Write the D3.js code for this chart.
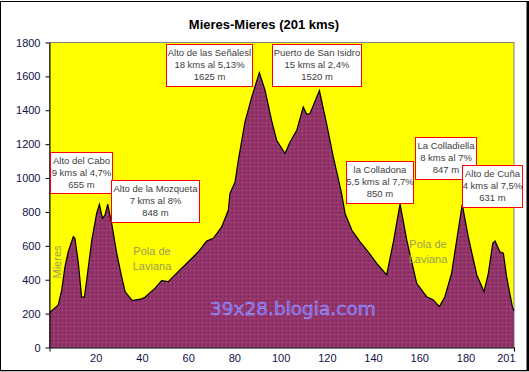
<!DOCTYPE html>
<html>
<head>
<meta charset="utf-8">
<script src="https://cdn.jsdelivr.net/npm/d3@7/dist/d3.min.js"></script>
<style>
    body { margin: 0; background: #ffffff; }
    text { font-family: "Liberation Sans", Arial, sans-serif; }
</style>
</head>
<body>
<svg id="profile" width="529" height="372"></svg>
<script>
// Profile: distance (km) and altitude (m)
const kms = [0, 3.8, 5.3, 6.7, 8.1, 10.3, 11, 12.5, 13.9, 15.1, 16.1, 18.3, 20.4, 21.6, 22.9, 24, 25.2,
    26.9, 29.1, 30.9, 32.7, 35.8, 39.9, 41.3, 45.7, 48.5, 51.4, 55.7, 60.1, 64.4, 68, 70.9, 74.5,
    77.4, 78.1, 80.3, 81.7, 84.6, 87.5, 90.8, 93.3, 96.1, 98.3, 101.9, 104.1, 107, 109.8, 111.3,
    112.7, 116.8, 119.9, 122.8, 126.4, 127.9, 130.8, 134.4, 137.9, 141.6, 145.9, 148.8, 151.7,
    154.6, 158.9, 163.2, 166.1, 168.7, 171.1, 174, 176.2, 178.6, 181.2, 184.9, 188, 189.9, 191.8,
    192.8, 194.9, 196.4, 197.8, 200.3, 201];
const altitudes = [205, 251, 340, 477, 565, 654, 644, 497, 297, 297, 399, 634, 791, 844, 762, 781, 846,
    732, 556, 438, 330, 277, 287, 297, 350, 395, 389, 448, 506, 565, 628, 644, 712,
    811, 909, 977, 1105, 1331, 1478, 1622, 1517, 1341, 1223, 1145, 1213, 1282, 1419, 1376,
    1380, 1516, 1321, 1125, 909, 791, 693, 624, 565, 497, 428, 624, 848,
    634, 379, 300, 281, 241, 300, 438, 634, 845, 654, 428, 330, 438, 615,
    628, 565, 556, 418, 241, 215];

// Passes shown in the boxes
const passNames = ["Alto del Cabo", "Alto de la Mozqueta", "Alto de las Señalesl", "Puerto de San Isidro",
    "la Colladona", "La Colladiella", "Alto de Cuña"];
const passClimbs = ["9 kms al 4,7%", "7 kms al 8%", "18 kms al 5,13%", "15 kms al 2,4%",
    "5,5 kms al 7,7%", "8 kms al 7%", "4 kms al 7,5%"];
const passHeights = ["655 m", "848 m", "1625 m", "1520 m", "850 m", "847 m", "631 m"];

const yTicks = [0, 200, 400, 600, 800, 1000, 1200, 1400, 1600, 1800];
const xTicks = [20, 40, 60, 80, 100, 120, 140, 160, 180, 201];

// Box layout in pixels (x, y, width, height), same order as passNames
const boxes = [[50, 152, 62, 41], [111, 180, 88, 42], [166, 44, 86, 42], [272, 44, 89, 42],
    [346, 161, 67, 42], [415, 137, 61, 42], [462, 165, 60, 42]];

const svg = d3.select("#profile");

const xAxis = d3.scaleLinear().domain([0, 201]).range([49.5, 514]);
const yAxis = d3.scaleLinear().domain([0, 1800]).range([347.5, 42.5]);

// outer frame
svg.append("rect").attr("x", 0.5).attr("y", 1.5).attr("width", 526.5).attr("height", 369)
    .attr("fill", "#ffffff").attr("stroke", "#000000");
svg.append("line").attr("x1", 528).attr("x2", 528).attr("y1", 1).attr("y2", 371)
    .attr("stroke", "#000000").attr("stroke-width", 2);
svg.append("line").attr("x1", 0).attr("x2", 529).attr("y1", 371.5).attr("y2", 371.5)
    .attr("stroke", "#c0c0c0");

// speckled fill like the Excel texture
const defs = svg.append("defs");
const pat = defs.append("pattern").attr("id", "speckle")
    .attr("width", 4).attr("height", 4).attr("patternUnits", "userSpaceOnUse");
pat.append("rect").attr("width", 4).attr("height", 4).attr("fill", "#93346a");
pat.append("rect").attr("x", 0).attr("y", 0).attr("width", 1).attr("height", 1).attr("fill", "#7a2656");
pat.append("rect").attr("x", 2).attr("y", 2).attr("width", 1).attr("height", 1).attr("fill", "#a8507e");
pat.append("rect").attr("x", 3).attr("y", 1).attr("width", 1).attr("height", 1).attr("fill", "#852d5e");

// plot area
svg.append("rect")
    .attr("x", xAxis(0)).attr("y", yAxis(1800))
    .attr("width", xAxis(201) - xAxis(0)).attr("height", yAxis(0) - yAxis(1800))
    .attr("fill", "#ffff00").attr("stroke", "#808080");

const points = kms.map((k, i) => ({ km: k, alt: altitudes[i] }));

const area = d3.area()
    .x(d => xAxis(d.km))
    .y0(yAxis(0))
    .y1(d => yAxis(d.alt));

svg.append("path").datum(points)
    .attr("d", area)
    .attr("fill", "url(#speckle)");

svg.append("path").datum(points)
    .attr("d", d3.line().x(d => xAxis(d.km)).y(d => yAxis(d.alt)))
    .attr("fill", "none").attr("stroke", "#000000").attr("stroke-width", 1.2);

// axes
const gy = svg.append("g")
    .attr("transform", "translate(" + xAxis(0) + ",0)")
    .call(d3.axisLeft(yAxis).tickValues(yTicks).tickFormat(d3.format("d"))
        .tickSize(4).tickPadding(5).tickSizeOuter(0));
gy.selectAll("text").attr("font-size", 11).attr("fill", "#101048")
    .style("font-family", "'Liberation Sans', Arial, sans-serif");

const gx = svg.append("g")
    .attr("transform", "translate(0," + yAxis(0) + ")")
    .call(d3.axisBottom(xAxis).tickValues(xTicks).tickFormat(d3.format("d"))
        .tickSize(0).tickPadding(7).tickSizeOuter(0));
gx.selectAll("text").attr("font-size", 11).attr("fill", "#101048")
    .style("font-family", "'Liberation Sans', Arial, sans-serif");
gx.selectAll(".tick").filter(d => d == 201).select("text")
    .attr("text-anchor", "end").attr("dx", 1);

// only the two end ticks on the distance axis
svg.append("g")
    .attr("transform", "translate(0," + yAxis(0) + ")")
    .call(d3.axisBottom(xAxis).tickValues([0, 201]).tickFormat("").tickSize(4).tickSizeOuter(0))
    .select(".domain").remove();

// title
svg.append("text").attr("x", 264).attr("y", 29)
    .attr("text-anchor", "middle").attr("font-size", 13).attr("font-weight", "bold")
    .attr("fill", "#000000").text("Mieres-Mieres (201 kms)");

// place names
svg.append("text")
    .attr("transform", "translate(61,262) rotate(-90)")
    .attr("text-anchor", "middle").attr("font-size", 11).attr("fill", "#9c9c58")
    .text("Mieres");

[[152, 255], [428, 248]].forEach(p => {
    const t = svg.append("text").attr("text-anchor", "middle").attr("font-size", 11).attr("fill", "#9c9c58");
    t.append("tspan").attr("x", p[0]).attr("y", p[1]).text("Pola de");
    t.append("tspan").attr("x", p[0]).attr("y", p[1] + 15).text("Laviana");
});

// watermark
svg.append("text").attr("x", 210).attr("y", 315)
    .attr("font-size", 18.5).style("font-family", "'DejaVu Sans', Verdana, sans-serif")
    .attr("fill", "#6f62ea").attr("stroke", "#b9b0ff").attr("stroke-width", 0.4)
    .text("39x28.blogia.com");

// pass boxes
passNames.forEach((name, i) => {
    const b = boxes[i];
    const g = svg.append("g");
    g.append("rect").attr("x", b[0] + 0.5).attr("y", b[1] + 0.5)
        .attr("width", b[2]).attr("height", b[3])
        .attr("fill", "#ffffff").attr("stroke", "#ff0000");
    [name, passClimbs[i], passHeights[i]].forEach((line, j) => {
        g.append("text").attr("x", b[0] + b[2] / 2 + 0.5).attr("y", b[1] + 11.5 + j * 12)
            .attr("text-anchor", "middle").attr("font-size", 9.5).attr("fill", "#404040")
            .text(line);
    });
});
</script>
</body>
</html>
